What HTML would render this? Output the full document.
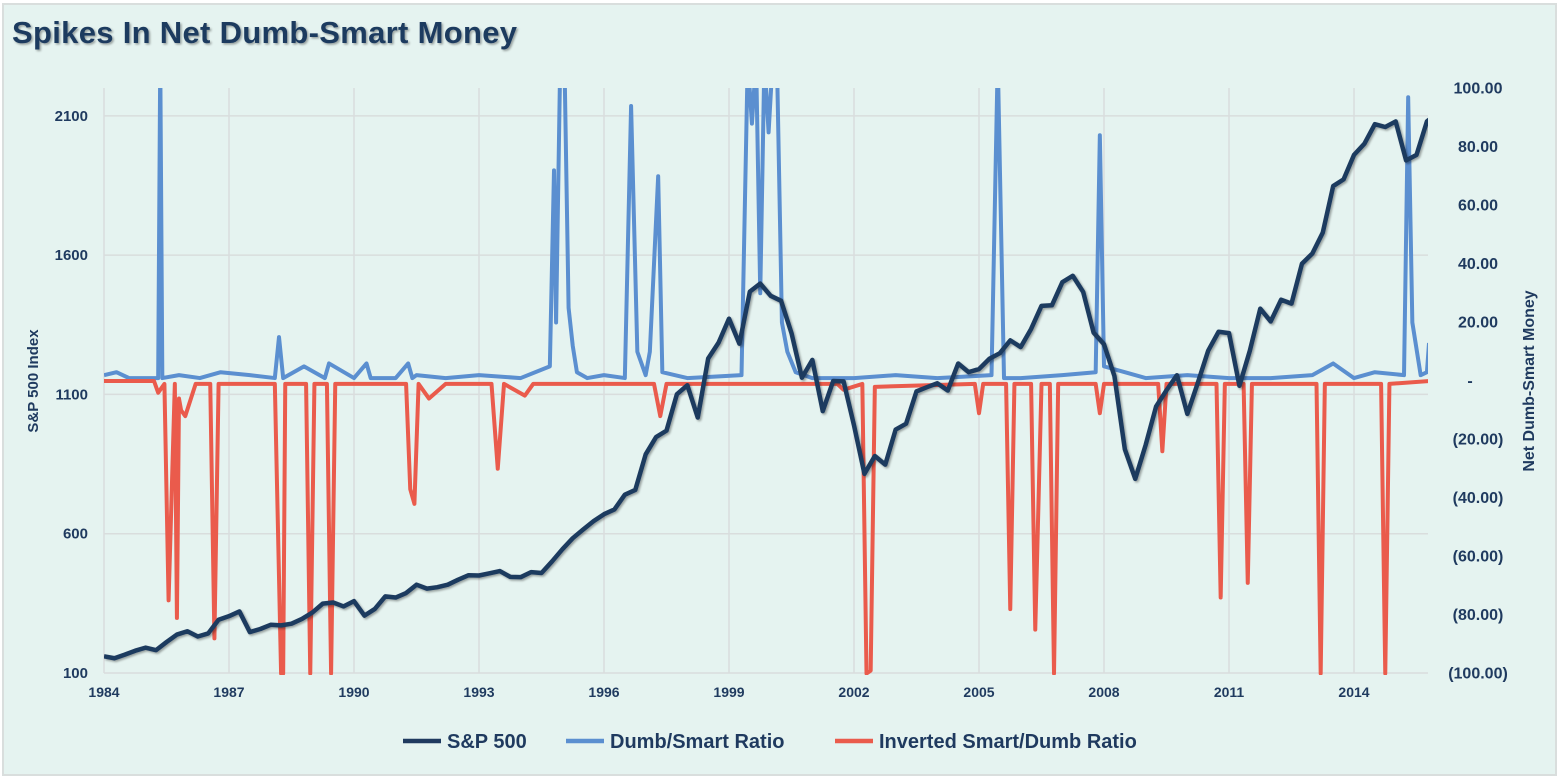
<!DOCTYPE html>
<html><head><meta charset="utf-8"><style>
html,body{margin:0;padding:0;background:#fff;}
svg{display:block;font-family:"Liberation Sans",sans-serif;}
</style></head><body>
<svg id="chart" width="1561" height="780">
<defs><clipPath id="plotclip"><rect x="104" y="88" width="1324" height="587"/></clipPath>
<filter id="sh"><feDropShadow dx="1.5" dy="1.5" stdDeviation="1" flood-color="#000" flood-opacity="0.35"/></filter></defs>
<rect x="3" y="4" width="1553" height="771" fill="#e5f3f0" stroke="#d9dedd" stroke-width="2"/>
<text x="12" y="43" font-size="31" font-weight="bold" fill="#1f3a5f" filter="url(#sh)" textLength="505">Spikes In Net Dumb-Smart Money</text>
<g id="grid"></g><g id="axes"></g><g id="series" clip-path="url(#plotclip)"></g><g id="legend"></g>
</svg>
<script>
const NS="http://www.w3.org/2000/svg";
// S&P 500 quarterly values, starting at 1984.0 on chart axis
const spx=[160,153,166,180,191,182,211,238,250,231,242,291,304,321,247,258,273,271,277,294,317,349,353,339,358,306,330,375,371,387,417,403,408,417,435,451,450,458,466,445,444,462,459,500,544,584,615,645,670,687,740,757,885,947,970,1101,1133,1017,1229,1286,1372,1282,1469,1498,1454,1436,1320,1160,1224,1040,1148,1147,989,815,879,848,974,995,1111,1126,1140,1114,1211,1180,1191,1228,1248,1294,1270,1335,1418,1420,1503,1526,1468,1322,1280,1166,903,797,919,1057,1115,1169,1030,1141,1257,1325,1320,1131,1257,1408,1362,1440,1426,1569,1606,1681,1848,1872,1960,2000,2070,2060,2080,1940,1960,2080,2110,2150];
const spxStart=1984.0, spxStep=0.25;
// Dumb/Smart ratio points [year, value]
const dumbYears=[1984,1984.3,1984.6,1985,1985.3,1985.35,1985.4,1985.8,1986.3,1986.8,1987.5,1988.1,1988.2,1988.3,1988.8,1989.3,1989.4,1990,1990.3,1990.4,1991,1991.3,1991.4,1991.5,1992.2,1993,1994,1994.7,1994.8,1994.85,1994.95,1995.05,1995.15,1995.25,1995.35,1995.6,1996,1996.5,1996.65,1996.8,1997.0,1997.1,1997.3,1997.4,1998,1999.3,1999.45,1999.55,1999.65,1999.75,1999.85,1999.95,2000.05,2000.15,2000.27,2000.4,2000.6,2001,2002,2003,2004,2005.3,2005.45,2005.6,2006,2007,2007.8,2007.9,2008.0,2008.5,2009,2010,2011,2012,2013,2013.5,2014,2014.5,2015.2,2015.3,2015.4,2015.6,2015.75,2015.8];
const dumbVals=[2,3,1,1,1,110,1,2,1,3,2,1,15,1,5,1,6,1,6,1,1,6,1,2,1,2,1,5,72,20,110,110,25,12,3,1,2,1,94,10,2,10,70,3,1,2,110,88,110,30,110,85,110,110,20,10,3,1,1,2,1,2,110,1,1,2,3,84,5,3,1,2,1,1,2,6,1,3,2,97,20,2,3,13];
// Inverted Smart/Dumb ratio points [year, value]
const invYears=[1984,1984.8,1985.2,1985.3,1985.45,1985.55,1985.7,1985.75,1985.8,1985.85,1985.95,1986.2,1986.55,1986.65,1986.75,1988.1,1988.25,1988.3,1988.35,1988.85,1988.95,1989.05,1989.35,1989.45,1989.55,1991.25,1991.35,1991.45,1991.55,1991.8,1992.2,1993.3,1993.45,1993.6,1994.1,1994.3,1997.2,1997.35,1997.5,2001.6,2001.75,2002.2,2002.3,2002.4,2002.5,2004.9,2005.0,2005.1,2005.65,2005.75,2005.85,2006.25,2006.35,2006.5,2006.7,2006.8,2006.9,2007.8,2007.9,2008.0,2009.3,2009.4,2009.5,2010.7,2010.8,2010.9,2011.35,2011.45,2011.55,2013.1,2013.2,2013.3,2014.65,2014.75,2014.85,2015.8];
const invVals=[0,0,0,-4,-1,-75,-1,-81,-6,-10,-12,-1,-1,-88,-1,-1,-100,-100,-1,-1,-100,-1,-1,-100,-1,-1,-37,-42,-1,-6,-1,-1,-30,-1,-5,-1,-1,-12,-1,-1,-3,-1,-100,-99,-2,-1,-11,-1,-1,-78,-1,-1,-85,-1,-1,-100,-1,-1,-11,-1,-1,-24,-1,-1,-74,-1,-1,-69,-1,-1,-100,-1,-1,-100,-1,0];
const xTicks=[1984,1987,1990,1993,1996,1999,2002,2005,2008,2011,2014];
const yLeftTicks=[100,600,1100,1600,2100];
const yRightTicks=[100,80,60,40,20,0,-20,-40,-60,-80,-100];

const X=y=>104+(y-1984)*41.667;
const YL=v=>673-(v-100)*(585/2100);
const YR=v=>381-v*2.925;
function el(t,a,p){const e=document.createElementNS(NS,t);for(const k in a)e.setAttribute(k,a[k]);p.appendChild(e);return e;}
const grid=document.getElementById('grid'),axes=document.getElementById('axes'),series=document.getElementById('series'),legend=document.getElementById('legend');
xTicks.forEach(t=>{
  const l=el('line',{x1:X(t),x2:X(t),y1:88,y2:673,stroke:'#d9dddd','stroke-width':1.5},grid);
  
  
  const tx=el('text',{x:X(t),y:697,'text-anchor':'middle','font-size':14,'font-weight':'bold',fill:'#1f3a5f'},axes);
  tx.textContent=t;
  
  
});
yLeftTicks.forEach(t=>{
  const l=el('line',{x1:104,x2:1428,y1:YL(t),y2:YL(t),stroke:'#d9dddd','stroke-width':1.5},grid);
  
  
  const tx=el('text',{x:88,y:YL(t)+5,'text-anchor':'end','font-size':15,'font-weight':'bold',fill:'#1f3a5f'},axes);
  tx.textContent=t;
  
  
});
yRightTicks.forEach(t=>{
  const s=t===0?'-':(t<0?'('+Math.abs(t).toFixed(2)+')':t.toFixed(2));
  const tx=el('text',{x:t===0?1470:1478,y:YR(t)+5,'text-anchor':'middle','font-size':16,'font-weight':'bold',fill:'#1f3a5f'},axes);
  tx.textContent=s;
  
  
});
const yl=el('text',{x:0,y:0,transform:'translate(38,381) rotate(-90)','text-anchor':'middle','font-size':15,'font-weight':'bold',fill:'#1f3a5f'},axes);
yl.textContent='S&P 500 Index';


const yr=el('text',{x:0,y:0,transform:'translate(1534,381) rotate(-90)','text-anchor':'middle','font-size':16,'font-weight':'bold',fill:'#1f3a5f'},axes);
yr.textContent='Net Dumb-Smart Money';



const blue=el('polyline',{points:dumbYears.map((y,i)=>X(y)+','+YR(dumbVals[i])).join(' '),fill:'none',stroke:'#5b8fd0','stroke-width':4,'stroke-linejoin':'round'},series);


const red=el('polyline',{points:invYears.map((y,i)=>X(y)+','+YR(invVals[i])).join(' '),fill:'none',stroke:'#ea5b4c','stroke-width':4,'stroke-linejoin':'round'},series);


const sp=el('polyline',{points:spx.map((v,i)=>X(spxStart+i*spxStep)+','+YL(v)).join(' '),fill:'none',stroke:'#1f3a5f','stroke-width':4.5,'stroke-linejoin':'round',filter:'url(#sh)'},series);



[['S&P 500','#1f3a5f',403],['Dumb/Smart Ratio','#5b8fd0',566],['Inverted Smart/Dumb Ratio','#ea5b4c',835]].forEach(([n,c,x])=>{
  const g=el('g',{},legend);
  
  
  el('line',{x1:x,x2:x+38,y1:741,y2:741,stroke:c,'stroke-width':4.5},g);
  const t=el('text',{x:x+44,y:748,'font-size':20,'font-weight':'bold',fill:'#1f3a5f'},g);
  t.textContent=n;
});
</script>
</body></html>
